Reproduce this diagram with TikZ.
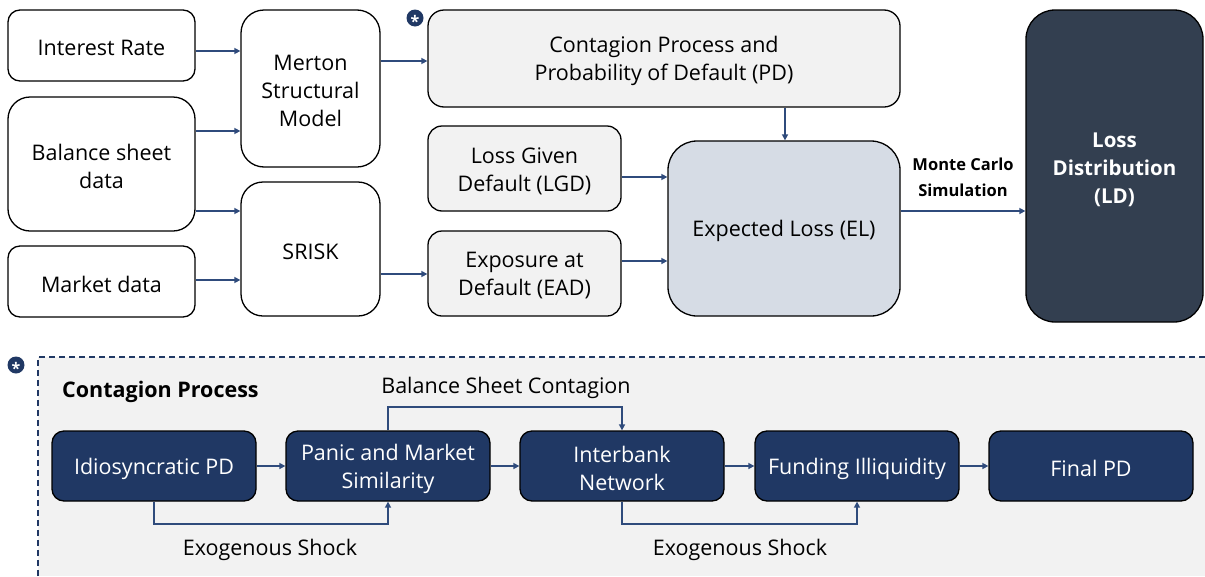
\documentclass[tikz,border=0pt]{standalone}
\usepackage{fontspec}
\setmainfont{Open Sans}
\usetikzlibrary{arrows.meta}
\definecolor{navy}{HTML}{203864}
\definecolor{arrowc}{HTML}{2F4B7C}
\definecolor{lightg}{HTML}{F2F2F2}
\definecolor{elfill}{HTML}{D6DCE5}
\definecolor{ldfill}{HTML}{333F50}
\tikzset{
  box/.style={draw=black, line width=1.3pt, inner sep=0pt},
  wbox/.style={box, fill=white},
  gbox/.style={box, fill=lightg},
  nbox/.style={box, fill=navy, minimum width=204, minimum height=70, rounded corners=12},
  txtlab/.style={align=center, inner sep=0pt, font=\fontsize{21.5}{28}\selectfont, text=black, yshift=-2.5pt},
  tx/.style={label={[txtlab]center:#1}},
  txw/.style={label={[txtlab, text=white]center:#1}},
  arr/.style={draw=arrowc, line width=1.5pt, -{Triangle[length=6pt,width=6pt]}},
  lbl/.style={font=\fontsize{21.5}{28}\selectfont, text=black, inner sep=0pt},
  star/.style={circle, fill=navy, minimum size=17, inner sep=0pt}
}
\begin{document}
\begin{tikzpicture}[x=1pt,y=-1pt]
\useasboundingbox (0,0) rectangle (1205,576);
% bottom panel
\fill[lightg] (38,357) rectangle (1205,576);
\draw[navy, line width=1.5pt, dash pattern=on 6pt off 4pt] (38,576) -- (38,357) -- (1205,357);
\node[star] (s2) at (16,365) {};
\node[text=white, inner sep=0pt, font=\bfseries\fontsize{16}{16}\selectfont] at ([yshift=-3pt]s2.center) {*};

% top boxes
\node[wbox, minimum width=187, minimum height=71, rounded corners=12, tx={Interest Rate}] (ir) at (101.5,45.5) {};
\node[wbox, minimum width=187, minimum height=134, rounded corners=22, tx={Balance sheet\\data}] (bs) at (101.5,164) {};
\node[wbox, minimum width=187, minimum height=71, rounded corners=12, tx={Market data}] (md) at (101.5,281.5) {};
\node[wbox, minimum width=139, minimum height=157, rounded corners=23, tx={Merton\\Structural\\Model}] (mer) at (310.5,88.5) {};
\node[wbox, minimum width=139, minimum height=134, rounded corners=22, tx={SRISK}] (sr) at (310.5,249) {};
\node[gbox, minimum width=472, minimum height=97, rounded corners=16, tx={Contagion Process and\\Probability of Default (PD)}] (cp) at (664,58.5) {};
\node[gbox, minimum width=193, minimum height=85, rounded corners=14, tx={Loss Given\\Default (LGD)}] (lgd) at (524.5,168.5) {};
\node[gbox, minimum width=193, minimum height=85, rounded corners=14, tx={Exposure at\\Default (EAD)}] (ead) at (524.5,273.5) {};
\node[box, fill=elfill, minimum width=232, minimum height=175, rounded corners=29, tx={Expected Loss (EL)}] (el) at (784,228.5) {};
\node[box, fill=ldfill, minimum width=177, minimum height=312, rounded corners=29,
  label={[txtlab, text=white, yshift=-1.5pt, font=\bfseries\fontsize{20.5}{28}\selectfont]center:Loss\\Distribution\\(LD)}] (ld) at (1114.5,166) {};
\node[star] (s1) at (415,18) {};
\node[text=white, inner sep=0pt, font=\bfseries\fontsize{16}{16}\selectfont] at ([yshift=-3pt]s1.center) {*};

\draw[arr] (ir.east |- 0,51) -- (mer.west |- 0,51);
\draw[arr] (bs.east |- 0,131) -- (mer.west |- 0,131);
\draw[arr] (bs.east |- 0,211) -- (sr.west |- 0,211);
\draw[arr] (md.east |- 0,280) -- (sr.west |- 0,280);
\draw[arr] (mer.east |- 0,61) -- (cp.west |- 0,61);
\draw[arr] (sr.east |- 0,274) -- (ead.west |- 0,274);
\draw[arr] (cp.south -| 785,0) -- (el.north -| 785,0);
\draw[arr] (lgd.east |- 0,177) -- (el.west |- 0,177);
\draw[arr] (ead.east |- 0,261) -- (el.west |- 0,261);
\draw[arr] (el.east |- 0,211) -- (ld.west |- 0,211);
\node[align=center, inner sep=0pt, font=\bfseries\fontsize{16.5}{26}\selectfont] (mc) at (963,177) {Monte Carlo\\Simulation};

% contagion process
\node[anchor=west, inner sep=0pt, font=\bfseries\fontsize{21.5}{24}\selectfont] (cpt) at (62,392) {Contagion Process};
\node[nbox, txw={Idiosyncratic PD}] (idio) at (154,466) {};
\node[nbox, txw={Panic and Market\\Similarity}] (pan) at (388,466) {};
\node[nbox, txw={Interbank\\Network}] (ib) at (622,466) {};
\node[nbox, txw={Funding Illiquidity}] (fi) at (857,466) {};
\node[nbox, txw={Final PD}] (fpd) at (1091,466) {};
\draw[arr] (idio) -- (pan);
\draw[arr] (pan) -- (ib);
\draw[arr] (ib) -- (fi);
\draw[arr] (fi) -- (fpd);
\coordinate (e1a) at (154,524);
\coordinate (e1b) at (388,524);
\draw[arr] (idio.south) -- (e1a) -- (e1b) -- (pan.south);
\coordinate (e2a) at (622,524);
\coordinate (e2b) at (857,524);
\draw[arr] (ib.south) -- (e2a) -- (e2b) -- (fi.south);
\coordinate (b1) at (388,407);
\coordinate (b2) at (622,407);
\draw[arr] (pan.north) -- (b1) -- (b2) -- (ib.north);
\node[lbl] (bsc) at (506,388) {Balance Sheet Contagion};
\node[lbl] (ex1) at (270,550) {Exogenous Shock};
\node[lbl] (ex2) at (740,550) {Exogenous Shock};
\end{tikzpicture}
\end{document}
